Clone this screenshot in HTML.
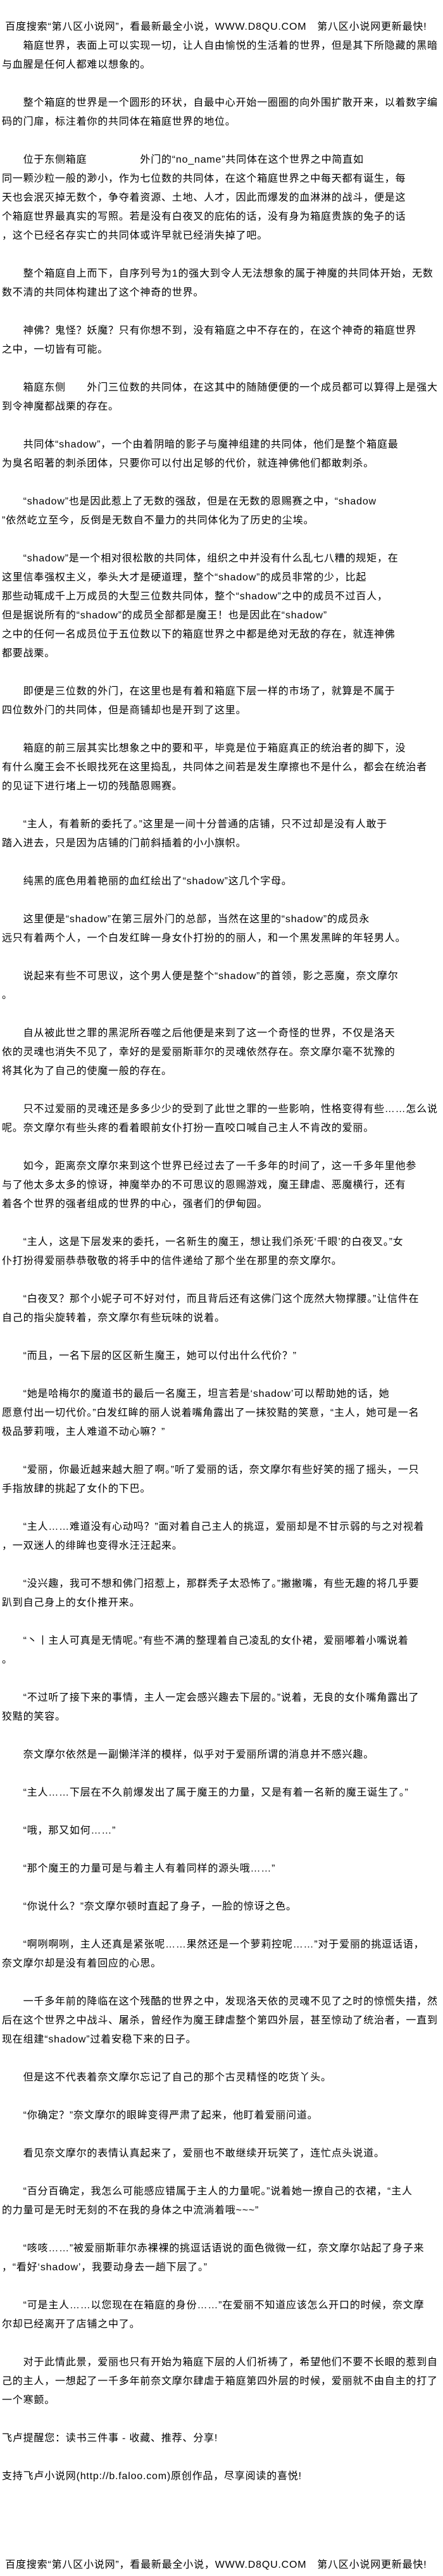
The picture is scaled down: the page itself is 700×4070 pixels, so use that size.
<!DOCTYPE html>
<html><head><meta charset="utf-8">
<style>
html,body{margin:0;padding:0;background:#fff;}
body{width:700px;height:4070px;overflow:hidden;}
.w{padding:28px 0 0 3px;font-family:"Liberation Sans","Noto Sans CJK SC",sans-serif;font-size:16px;letter-spacing:0.8px;line-height:30px;white-space:nowrap;color:#000;}
p{margin:0 0 30px 0;}
p.h{margin:0;}
p.last{margin-bottom:110px;}
</style></head><body><div class="w">
<p class="h">&nbsp;百度搜索“第八区小说网”，看最新最全小说，WWW.D8QU.COM　第八区小说网更新最快!</p>
<p>　　箱庭世界，表面上可以实现一切，让人自由愉悦的生活着的世界，但是其下所隐藏的黑暗<br>与血腥是任何人都难以想象的。</p>
<p>　　整个箱庭的世界是一个圆形的环状，自最中心开始一圈圈的向外围扩散开来，以着数字编<br>码的门扉，标注着你的共同体在箱庭世界的地位。</p>
<p>　　位于东侧箱庭　　　　　外门的“no_name”共同体在这个世界之中简直如<br>同一颗沙粒一般的渺小，作为七位数的共同体，在这个箱庭世界之中每天都有诞生，每<br>天也会泯灭掉无数个，争夺着资源、土地、人才，因此而爆发的血淋淋的战斗，便是这<br>个箱庭世界最真实的写照。若是没有白夜叉的庇佑的话，没有身为箱庭贵族的兔子的话<br>，这个已经名存实亡的共同体或许早就已经消失掉了吧。</p>
<p>　　整个箱庭自上而下，自序列号为1的强大到令人无法想象的属于神魔的共同体开始，无数<br>数不清的共同体构建出了这个神奇的世界。</p>
<p>　　神佛？鬼怪？妖魔？只有你想不到，没有箱庭之中不存在的，在这个神奇的箱庭世界<br>之中，一切皆有可能。</p>
<p>　　箱庭东侧　　外门三位数的共同体，在这其中的随随便便的一个成员都可以算得上是强大<br>到令神魔都战栗的存在。</p>
<p>　　共同体“shadow”，一个由着阴暗的影子与魔神组建的共同体，他们是整个箱庭最<br>为臭名昭著的刺杀团体，只要你可以付出足够的代价，就连神佛他们都敢刺杀。</p>
<p>　　“shadow”也是因此惹上了无数的强敌，但是在无数的恩赐赛之中，“shadow<br>”依然屹立至今，反倒是无数自不量力的共同体化为了历史的尘埃。</p>
<p>　　“shadow”是一个相对很松散的共同体，组织之中并没有什么乱七八糟的规矩，在<br>这里信奉强权主义，拳头大才是硬道理，整个“shadow”的成员非常的少，比起<br>那些动辄成千上万成员的大型三位数共同体，整个“shadow”之中的成员不过百人，<br>但是据说所有的“shadow”的成员全部都是魔王！也是因此在“shadow”<br>之中的任何一名成员位于五位数以下的箱庭世界之中都是绝对无敌的存在，就连神佛<br>都要战栗。</p>
<p>　　即便是三位数的外门，在这里也是有着和箱庭下层一样的市场了，就算是不属于<br>四位数外门的共同体，但是商铺却也是开到了这里。</p>
<p>　　箱庭的前三层其实比想象之中的要和平，毕竟是位于箱庭真正的统治者的脚下，没<br>有什么魔王会不长眼找死在这里捣乱，共同体之间若是发生摩擦也不是什么，都会在统治者<br>的见证下进行堵上一切的残酷恩赐赛。</p>
<p>　　“主人，有着新的委托了。”这里是一间十分普通的店铺，只不过却是没有人敢于<br>踏入进去，只是因为店铺的门前斜插着的小小旗帜。</p>
<p>　　纯黑的底色用着艳丽的血红绘出了“shadow”这几个字母。</p>
<p>　　这里便是“shadow”在第三层外门的总部，当然在这里的“shadow”的成员永<br>远只有着两个人，一个白发红眸一身女仆打扮的的丽人，和一个黑发黑眸的年轻男人。</p>
<p>　　说起来有些不可思议，这个男人便是整个“shadow”的首领，影之恶魔，奈文摩尔<br>。</p>
<p>　　自从被此世之罪的黑泥所吞噬之后他便是来到了这一个奇怪的世界，不仅是洛天<br>依的灵魂也消失不见了，幸好的是爱丽斯菲尔的灵魂依然存在。奈文摩尔毫不犹豫的<br>将其化为了自己的使魔一般的存在。</p>
<p>　　只不过爱丽的灵魂还是多多少少的受到了此世之罪的一些影响，性格变得有些……怎么说<br>呢。奈文摩尔有些头疼的看着眼前女仆打扮一直咬口喊自己主人不肯改的爱丽。</p>
<p>　　如今，距离奈文摩尔来到这个世界已经过去了一千多年的时间了，这一千多年里他参<br>与了他太多太多的惊讶，神魔举办的不可思议的恩赐游戏，魔王肆虐、恶魔横行，还有<br>着各个世界的强者组成的世界的中心，强者们的伊甸园。</p>
<p>　　“主人，这是下层发来的委托，一名新生的魔王，想让我们杀死‘千眼’的白夜叉。”女<br>仆打扮得爱丽恭恭敬敬的将手中的信件递给了那个坐在那里的奈文摩尔。</p>
<p>　　“白夜叉？那个小妮子可不好对付，而且背后还有这佛门这个庞然大物撑腰。”让信件在<br>自己的指尖旋转着，奈文摩尔有些玩味的说着。</p>
<p>　　“而且，一名下层的区区新生魔王，她可以付出什么代价？”</p>
<p>　　“她是哈梅尔的魔道书的最后一名魔王，坦言若是‘shadow’可以帮助她的话，她<br>愿意付出一切代价。”白发红眸的丽人说着嘴角露出了一抹狡黠的笑意，“主人，她可是一名<br>极品萝莉哦，主人难道不动心嘛？”</p>
<p>　　“爱丽，你最近越来越大胆了啊。”听了爱丽的话，奈文摩尔有些好笑的摇了摇头，一只<br>手指放肆的挑起了女仆的下巴。</p>
<p>　　“主人……难道没有心动吗？”面对着自己主人的挑逗，爱丽却是不甘示弱的与之对视着<br>，一双迷人的绯眸也变得水汪汪起来。</p>
<p>　　“没兴趣，我可不想和佛门招惹上，那群秃子太恐怖了。”撇撇嘴，有些无趣的将几乎要<br>趴到自己身上的女仆推开来。</p>
<p>　　“丶丨主人可真是无情呢。”有些不满的整理着自己凌乱的女仆裙，爱丽嘟着小嘴说着<br>。</p>
<p>　　“不过听了接下来的事情，主人一定会感兴趣去下层的。”说着，无良的女仆嘴角露出了<br>狡黠的笑容。</p>
<p>　　奈文摩尔依然是一副懒洋洋的模样，似乎对于爱丽所谓的消息并不感兴趣。</p>
<p>　　“主人……下层在不久前爆发出了属于魔王的力量，又是有着一名新的魔王诞生了。”</p>
<p>　　“哦，那又如何……”</p>
<p>　　“那个魔王的力量可是与着主人有着同样的源头哦……”</p>
<p>　　“你说什么？”奈文摩尔顿时直起了身子，一脸的惊讶之色。</p>
<p>　　“啊咧啊咧，主人还真是紧张呢……果然还是一个萝莉控呢……”对于爱丽的挑逗话语，<br>奈文摩尔却是没有着回应的心思。</p>
<p>　　一千多年前的降临在这个残酷的世界之中，发现洛天依的灵魂不见了之时的惊慌失措，然<br>后在这个世界之中战斗、屠杀，曾经作为魔王肆虐整个第四外层，甚至惊动了统治者，一直到<br>现在组建“shadow”过着安稳下来的日子。</p>
<p>　　但是这不代表着奈文摩尔忘记了自己的那个古灵精怪的吃货丫头。</p>
<p>　　“你确定？”奈文摩尔的眼眸变得严肃了起来，他盯着爱丽问道。</p>
<p>　　看见奈文摩尔的表情认真起来了，爱丽也不敢继续开玩笑了，连忙点头说道。</p>
<p>　　“百分百确定，我怎么可能感应错属于主人的力量呢。”说着她一撩自己的衣裙，“主人<br>的力量可是无时无刻的不在我的身体之中流淌着哦~~~”</p>
<p>　　“咳咳……”被爱丽斯菲尔赤裸裸的挑逗话语说的面色微微一红，奈文摩尔站起了身子来<br>，“看好‘shadow’，我要动身去一趟下层了。”</p>
<p>　　“可是主人……以您现在在箱庭的身份……”在爱丽不知道应该怎么开口的时候，奈文摩<br>尔却已经离开了店铺之中了。</p>
<p>　　对于此情此景，爱丽也只有开始为箱庭下层的人们祈祷了，希望他们不要不长眼的惹到自<br>己的主人，一想起了一千多年前奈文摩尔肆虐于箱庭第四外层的时候，爱丽就不由自主的打了<br>一个寒颤。</p>
<p>飞卢提醒您：读书三件事 - 收藏、推荐、分享!</p>
<p class="last">支持飞卢小说网(http://b.faloo.com)原创作品，尽享阅读的喜悦!</p>
<p class="h">&nbsp;百度搜索“第八区小说网”，看最新最全小说，WWW.D8QU.COM　第八区小说网更新最快!</p>
</div></body></html>
